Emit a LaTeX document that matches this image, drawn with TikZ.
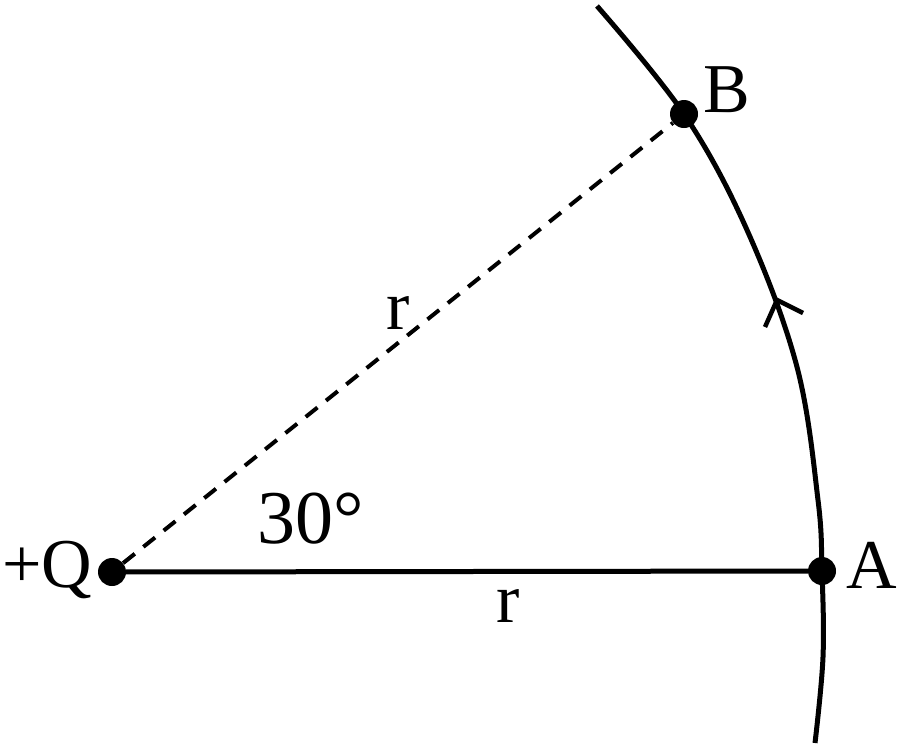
\documentclass[tikz,border=0pt]{standalone}
\usepackage{fontspec}
\setmainfont{Liberation Serif}
\begin{document}
\begin{tikzpicture}[x=1pt,y=-1pt,
  dot/.style={circle,fill=black,inner sep=0pt,minimum size=28pt},
  lbl/.style={inner sep=0pt,anchor=base,font=\fontsize{70}{84}\selectfont},
  biglbl/.style={inner sep=0pt,anchor=base,font=\fontsize{76}{90}\selectfont},
  solidline/.style={line width=5pt},
  dashline/.style={line width=4pt,dash pattern=on 15pt off 11pt},
  ]
\useasboundingbox (0,0) rectangle (900,745);
\node[dot] (Q) at (112,572) {};
\node[dot] (A) at (822,571) {};
\node[dot] (B) at (684,114) {};
\draw[solidline] (Q) -- (A);
\draw[dashline] (Q) -- (B);
\draw[solidline] plot[smooth,tension=0.6] coordinates {(597,6) (684,114) (747,230) (797,367) (818,500) (822,571) (823,657) (815,743)};
\coordinate (tip) at (777,300);
\draw[line width=4.5pt] (765,327) -- (tip) -- (803,313);
\node[lbl] (lQ) at (47.5,587) {+Q};
\node[lbl] (lA) at (872,588) {A};
\node[lbl] (lB) at (727,112) {B};
\node[lbl] (r1) at (398,329) {r};
\node[lbl] (r2) at (508,622) {r};
\node[biglbl] (ang) at (311,543) {30°};
\end{tikzpicture}
\end{document}
